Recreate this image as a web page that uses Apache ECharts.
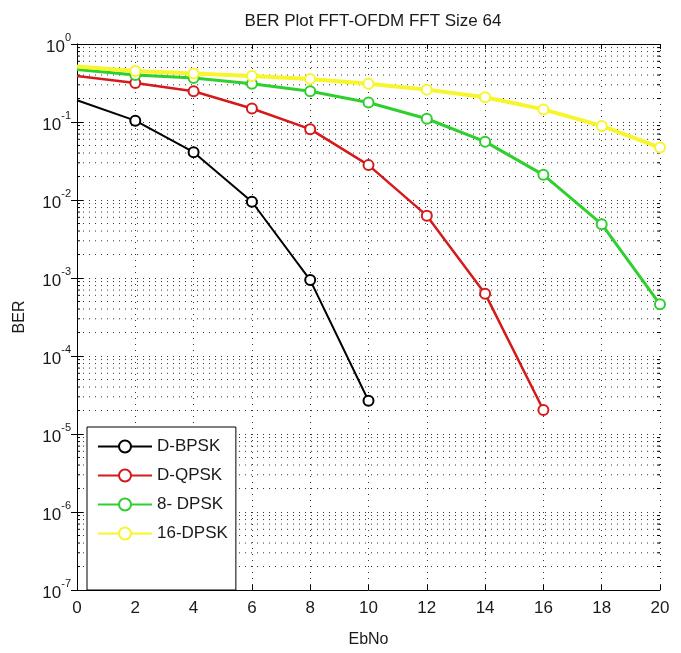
<!DOCTYPE html>
<html>
<head>
<meta charset="utf-8">
<script src="https://cdn.jsdelivr.net/npm/echarts@6/dist/echarts.min.js"></script>
<style>html,body{margin:0;padding:0;background:#fff;}#chart{width:681px;height:653px;}</style>
</head>
<body>
<div id="chart"></div>
<script>
// ---- data ----
const ebno = [0, 2, 4, 6, 8, 10, 12, 14, 16, 18, 20];
const dbpsk = [0.19, 0.104, 0.041, 0.0095, 0.00094, 0.0000267];
const dqpsk = [0.39, 0.316, 0.248, 0.149, 0.081, 0.028, 0.0063, 0.00063, 0.0000203];
const dpsk8 = [0.47, 0.40, 0.367, 0.31, 0.248, 0.178, 0.11, 0.056, 0.021, 0.0049, 0.00046];
const dpsk16 = [0.515, 0.45, 0.42, 0.39, 0.356, 0.31, 0.26, 0.208, 0.145, 0.089, 0.047];
const seriesNames = ['D-BPSK', 'D-QPSK', '8- DPSK', '16-DPSK'];
const xTicks = [0, 2, 4, 6, 8, 10, 12, 14, 16, 18, 20];
const yDecades = [-7, -6, -5, -4, -3, -2, -1, 0];
const minorMultipliers = [2, 3, 4, 5, 6, 7, 8, 9];

const minorVals = [];
yDecades.slice(0, -1).forEach(e => minorMultipliers.forEach(m => minorVals.push([0, m * Math.pow(10, e)])));

const FONT = "'Liberation Sans', Arial, sans-serif";
const TXT = '#1a1a1a';
// first point (on the y axis) is drawn without a marker, as in the reference
const pair = arr => arr.map((v, i) => (i === 0 ? {value: [ebno[i], v], symbol: 'none'} : [ebno[i], v]));

const chart = echarts.init(document.getElementById('chart'), null, {renderer: 'canvas'});

function lineSeries(name, data, color, width, symSize, borderW) {
  return {
    name, type: 'line', data: pair(data), z: 5,
    symbol: 'emptyCircle', symbolSize: symSize, showSymbol: true,
    lineStyle: {color, width},
    itemStyle: {color, borderColor: color, borderWidth: borderW},
    emphasis: {disabled: true}, animation: false
  };
}

const dotted = {color: '#333', width: 1, type: [1, 5]};

chart.setOption({
  animation: false,
  backgroundColor: '#fff',
  title: {
    text: 'BER Plot FFT-OFDM FFT Size 64', left: 368, top: 8, textAlign: 'center',
    textStyle: {fontFamily: FONT, fontSize: 17, fontWeight: 'normal', color: TXT}
  },
  grid: {left: 77, right: 21, top: 44, bottom: 58, containLabel: false},
  legend: {
    data: seriesNames,
    orient: 'vertical', left: 87, top: 427,
    padding: [11, 8, 48, 10], itemGap: 12, itemWidth: 54, itemHeight: 15,
    backgroundColor: '#fff', borderColor: '#000', borderWidth: 1, borderRadius: 0,
    textStyle: {fontFamily: FONT, fontSize: 17, color: TXT},
    selectedMode: false, z: 20
  },
  xAxis: [{
    type: 'value', min: 0, max: 20, interval: 2, position: 'bottom',
    name: 'EbNo', nameLocation: 'middle', nameGap: 42,
    nameTextStyle: {fontFamily: FONT, fontSize: 16, color: TXT},
    axisLine: {show: true, lineStyle: {color: '#000', width: 1}},
    axisTick: {show: true, inside: true, length: 5, lineStyle: {color: '#000'}},
    axisLabel: {fontFamily: FONT, fontSize: 17, color: TXT, margin: 10},
    splitLine: {show: true, lineStyle: dotted}
  }, {
    type: 'value', min: 0, max: 20, interval: 2, position: 'top',
    axisLine: {show: true, lineStyle: {color: '#000', width: 1}},
    axisTick: {show: true, inside: true, length: 5, lineStyle: {color: '#000'}},
    axisLabel: {show: false}, splitLine: {show: false}
  }],
  yAxis: [{
    type: 'log', logBase: 10, min: 1e-7, max: 1, interval: 1, position: 'left',
    name: 'BER', nameLocation: 'middle', nameGap: 49, nameRotate: 90,
    nameTextStyle: {fontFamily: FONT, fontSize: 16, color: TXT},
    axisLine: {show: true, lineStyle: {color: '#000', width: 1}},
    axisTick: {show: true, inside: true, length: 6, lineStyle: {color: '#000'}},
    axisLabel: {
      margin: 6,
      formatter: v => '{b|10}{s|' + Math.round(Math.log10(v)) + '}',
      rich: {
        b: {fontFamily: FONT, fontSize: 17, color: TXT, lineHeight: 24, verticalAlign: 'bottom'},
        s: {fontFamily: FONT, fontSize: 11, color: TXT, lineHeight: 24, verticalAlign: 'top'}
      }
    },
    splitLine: {show: true, lineStyle: dotted},
    minorTick: {show: false}
  }, {
    type: 'log', logBase: 10, min: 1e-7, max: 1, interval: 1, position: 'right',
    axisLine: {show: true, lineStyle: {color: '#000', width: 1}},
    axisTick: {show: true, inside: true, length: 6, lineStyle: {color: '#000'}},
    axisLabel: {show: false}, splitLine: {show: false}
  }],
  series: [
    {
      name: 'minorgrid', type: 'custom', data: minorVals, silent: true, z: 1,
      encode: {x: 0, y: 1},
      renderItem: (params, api) => {
        const v = api.value(1);
        const p0 = api.coord([0, v]);
        const p1 = api.coord([20, v]);
        return {
          type: 'group', children: [
            {type: 'line', shape: {x1: p0[0], y1: p0[1], x2: p1[0], y2: p1[1]},
             style: {stroke: '#333', lineWidth: 1, lineDash: [1, 5]}},
            {type: 'line', shape: {x1: p0[0], y1: p0[1], x2: p0[0] + 3, y2: p0[1]},
             style: {stroke: '#000', lineWidth: 1}},
            {type: 'line', shape: {x1: p1[0], y1: p1[1], x2: p1[0] - 3, y2: p1[1]},
             style: {stroke: '#000', lineWidth: 1}}
          ]
        };
      }
    },
    lineSeries('D-BPSK', dbpsk, '#000000', 2, 10, 2),
    lineSeries('D-QPSK', dqpsk, '#d41a1a', 2.5, 10, 2),
    lineSeries('8- DPSK', dpsk8, '#2fcf2f', 3, 10, 2),
    lineSeries('16-DPSK', dpsk16, '#f7f52c', 4, 10, 2.5)
  ]
});
</script>
</body>
</html>
